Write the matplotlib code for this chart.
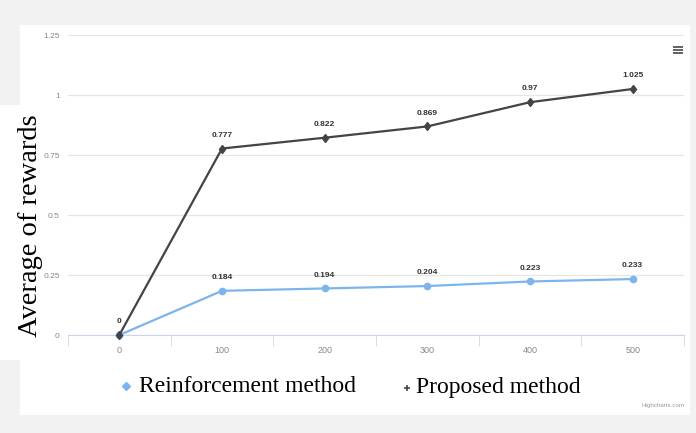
import matplotlib.pyplot as plt
from matplotlib.patches import Rectangle
from matplotlib.lines import Line2D

episodes = ["0", "100", "200", "300", "400", "500"]
reinforcement = [0, 0.184, 0.194, 0.204, 0.223, 0.233]
proposed = [0, 0.777, 0.822, 0.869, 0.97, 1.025]
y_ticks = [0, 0.25, 0.5, 0.75, 1, 1.25]
y_tick_labels = ["0", "0.25", "0.5", "0.75", "1", "1.25"]

W, H = 696, 433
BLUE = "#7cb5ec"
DARK = "#434348"
sans = ["Liberation Sans Narrow", "Liberation Sans", "DejaVu Sans"]
serif = ["Liberation Serif", "DejaVu Serif"]


def fx(px):
    return px / W


def fy(py):
    return 1 - py / H


fig = plt.figure(figsize=(W / 100, H / 100), dpi=100, facecolor="#f2f2f2")

# white chart panel
fig.patches.append(Rectangle((fx(20), fy(415)), fx(690) - fx(20), fy(25) - fy(415),
                             transform=fig.transFigure, facecolor="white",
                             edgecolor="none", zorder=-5))
# white strip behind the pasted y label
fig.patches.append(Rectangle((0, fy(360)), fx(24), fy(105) - fy(360),
                             transform=fig.transFigure, facecolor="white",
                             edgecolor="none", zorder=-4))

ax = fig.add_axes([fx(68), fy(335), fx(684) - fx(68), fy(35) - fy(335)])
ax.set_facecolor("none")
x = list(range(len(episodes)))
ax.set_xlim(-0.5, len(episodes) - 0.5)
ax.set_ylim(0, 1.25)

ax.plot(x, reinforcement, color=BLUE, lw=1.6, marker="o", ms=4.5, clip_on=False, zorder=3)
ax.plot(x, proposed, color=DARK, lw=1.6, marker="d", ms=4.5, clip_on=False, zorder=4)

for i, v in enumerate(proposed):
    ax.annotate(f"{v:g}", (i, v), xytext=(0, 7), textcoords="offset points",
                ha="center", va="bottom", fontsize=6, fontweight="bold",
                color="#333333", family=sans)
for i, v in enumerate(reinforcement):
    if i == 0:
        continue
    ax.annotate(f"{v:g}", (i, v), xytext=(0, 7), textcoords="offset points",
                ha="center", va="bottom", fontsize=6, fontweight="bold",
                color="#333333", family=sans)

ax.set_yticks(y_ticks)
ax.set_yticklabels(y_tick_labels, family=sans, fontsize=6, color="#888888")
ax.set_xticks(x)
ax.set_xticklabels(episodes, family=sans, fontsize=6.5, color="#888888")
ax.tick_params(axis="y", length=0, pad=6)
ax.tick_params(axis="x", which="major", length=0, pad=8)
ax.set_xticks([i - 0.5 for i in range(len(episodes) + 1)], minor=True)
ax.tick_params(axis="x", which="minor", length=8, color="#ccd6eb", direction="out")
ax.grid(axis="y", color="#e6e6e6", lw=0.9)
ax.set_axisbelow(True)
for s in ["top", "right", "left"]:
    ax.spines[s].set_visible(False)
ax.spines["bottom"].set_color("#ccd6eb")
ax.spines["bottom"].set_zorder(2)

fig.text(fx(31), fy(226), "Average of rewards", rotation=90, ha="center", va="center",
         fontsize=20.5, family=serif, color="black")

# legend
fig.add_artist(Line2D([fx(126)], [fy(386)], marker="D", ms=4, color=BLUE,
                      transform=fig.transFigure))
fig.text(fx(139), fy(387), "Reinforcement method", ha="left", va="center",
         fontsize=17, family=serif, color="black")
fig.add_artist(Line2D([fx(407)], [fy(388)], marker="+", ms=5, mew=1.2, color=DARK,
                      transform=fig.transFigure))
fig.text(fx(416), fy(387), "Proposed method", ha="left", va="center",
         fontsize=17, family=serif, color="black")

fig.text(fx(685), fy(406), "Highcharts.com", ha="right", va="center",
         fontsize=4.5, family=sans, color="#999999")

# menu icon
for k in range(3):
    fig.patches.append(Rectangle((fx(673), fy(46 + 3.2 * k) - 1.6 / H), 10 / W, 2 / H,
                                 transform=fig.transFigure, facecolor="#666666",
                                 edgecolor="none"))

fig.savefig("out.png", dpi=100, facecolor=fig.get_facecolor())
